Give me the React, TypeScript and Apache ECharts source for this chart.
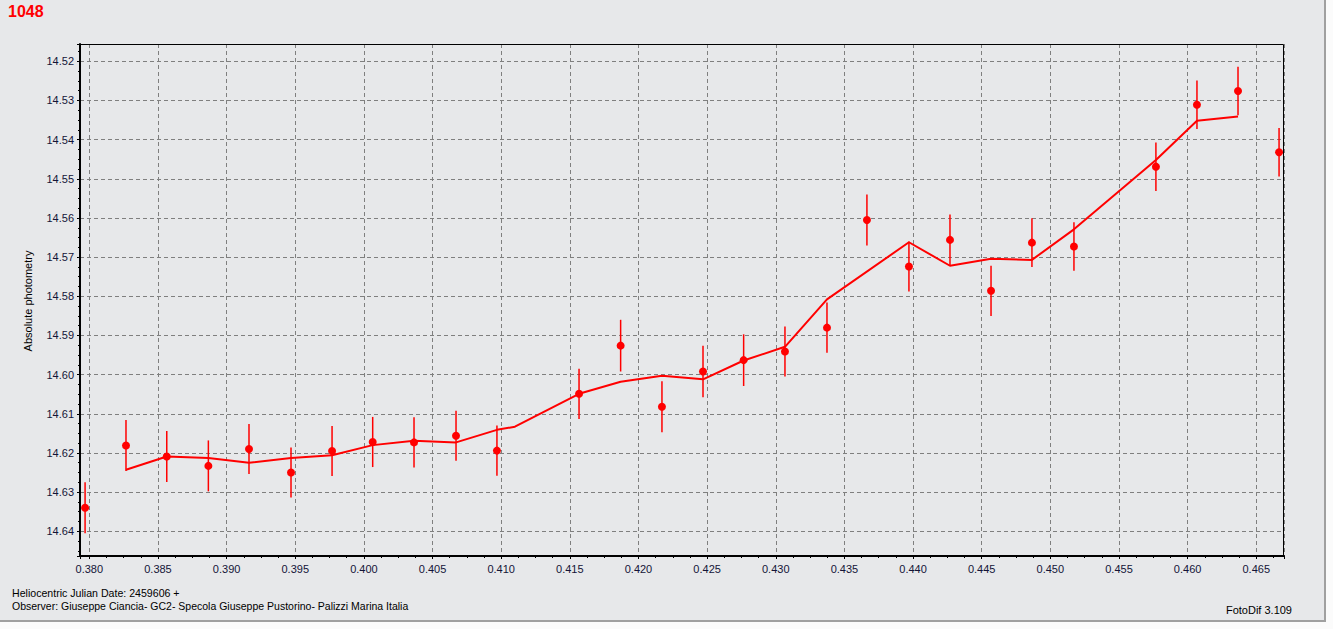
import React, { useEffect, useRef } from "react";
import * as echarts from "echarts";

// Heliocentric Julian Date offsets (days after 2459606)
const obsJD = [
  0.37969, 0.38267, 0.38564, 0.38867, 0.39163, 0.39469, 0.39768, 0.40064, 0.40365, 0.40671,
  0.40969, 0.41567, 0.4187, 0.42171, 0.4247, 0.42766, 0.43067, 0.43373, 0.43664, 0.4397,
  0.44269, 0.44568, 0.44866, 0.45172, 0.45769, 0.46068, 0.46367, 0.46666,
];
// Absolute photometry (magnitudes)
const obsMag = [
  14.634, 14.6181, 14.6209, 14.6233, 14.619, 14.625, 14.6195, 14.6172, 14.6173, 14.6156,
  14.6194, 14.6049, 14.5926, 14.6082, 14.5992, 14.5963, 14.5941, 14.588, 14.5605, 14.5724,
  14.5656, 14.5786, 14.5663, 14.5673, 14.5469, 14.5311, 14.5276, 14.5432,
];
// Error (half length of error bar)
const obsErr = [
  0.0065, 0.0065, 0.0065, 0.0065, 0.0064, 0.0064, 0.0064, 0.0064, 0.0064, 0.0064,
  0.0064, 0.0064, 0.0066, 0.0065, 0.0066, 0.0066, 0.0064, 0.0064, 0.0065, 0.0064,
  0.0065, 0.0064, 0.0062, 0.0062, 0.0062, 0.0062, 0.0062, 0.0062,
];
// Smoothed curve
const curveJD = [
  0.38267, 0.38564, 0.38867, 0.39163, 0.39469, 0.39768, 0.40064, 0.40365, 0.40671, 0.40969,
  0.411, 0.41567, 0.4187, 0.42171, 0.4247, 0.42766, 0.43067, 0.43373, 0.4397, 0.44269,
  0.44568, 0.44866, 0.45172, 0.45769, 0.46068, 0.46367,
];
const curveMag = [
  14.6243, 14.6209, 14.6213, 14.6225, 14.6213, 14.6206, 14.618, 14.6169, 14.6173, 14.6141,
  14.6133, 14.6049, 14.6018, 14.6003, 14.6012, 14.5964, 14.5929, 14.5808, 14.5662, 14.5722,
  14.5704, 14.5707, 14.5629, 14.5452, 14.5352, 14.5341,
];

const titleText = "1048";
const yName = "Absolute photometry";
const xNameText = "Heliocentric Julian Date: 2459606 +";
const observerText = "Observer: Giuseppe Ciancia- GC2- Specola Giuseppe Pustorino- Palizzi Marina Italia";
const versionText = "FotoDif 3.109";

const FONT = "'Liberation Sans', Arial, sans-serif";
const BG = "#e7e8ea";

export default function App() {
  const ref = useRef<HTMLDivElement>(null);
  useEffect(() => {
    if (!ref.current) return;
    const chart = echarts.init(ref.current, undefined, { renderer: "svg" });
    const errData = obsJD.map((x, i) => [x, obsMag[i] - obsErr[i], obsMag[i] + obsErr[i]]);
    const ptData = obsJD.map((x, i) => [x, obsMag[i]]);
    const lineData = curveJD.map((x, i) => [x, curveMag[i]]);
    chart.setOption({
      animation: false,
      backgroundColor: BG,
      grid: { left: 80, top: 44, right: 40, bottom: 64, containLabel: false },
      xAxis: {
        type: "value",
        min: 0.37932,
        max: 0.46702,
        minInterval: 0.005,
        maxInterval: 0.005,
        splitNumber: 17,
        axisLine: { show: true, lineStyle: { color: "#000", width: 2 } },
        axisTick: { show: true, length: 3, lineStyle: { color: "#000" } },
        minorTick: { show: true, splitNumber: 4, length: 2, lineStyle: { color: "#000" } },
        splitLine: { show: true, lineStyle: { color: "#7f7f7f", type: [4, 3], width: 1 } },
        axisLabel: {
          showMinLabel: false,
          showMaxLabel: false,
          margin: 7,
          color: "#141438",
          fontSize: 11,
          fontFamily: FONT,
          formatter: (v: number) => v.toFixed(3),
        },
      },
      yAxis: {
        type: "value",
        inverse: true,
        min: 14.51558,
        max: 14.64631,
        minInterval: 0.01,
        maxInterval: 0.01,
        splitNumber: 13,
        axisLine: { show: true, lineStyle: { color: "#000", width: 2 } },
        axisTick: { show: true, length: 3, lineStyle: { color: "#000" } },
        minorTick: { show: true, splitNumber: 4, length: 2, lineStyle: { color: "#000" } },
        splitLine: { show: true, lineStyle: { color: "#7f7f7f", type: [4, 3], width: 1 } },
        axisLabel: {
          showMinLabel: false,
          showMaxLabel: false,
          margin: 6,
          color: "#141438",
          fontSize: 11,
          fontFamily: FONT,
          formatter: (v: number) => v.toFixed(2),
        },
      },
      graphic: [
        {
          type: "rect",
          z: 100,
          silent: true,
          shape: { x: 80, y: 44.5, width: 1203.5, height: 511.5 },
          style: { fill: "none", stroke: "#000", lineWidth: 1 },
        },
        {
          type: "text",
          left: 8,
          top: 3,
          style: { text: titleText, fill: "#ff0000", font: `bold 16px ${FONT}` },
        },
        {
          type: "text",
          x: 28,
          y: 301,
          rotation: Math.PI / 2,
          style: {
            text: yName,
            fill: "#000",
            font: `11px ${FONT}`,
            textAlign: "center",
            textVerticalAlign: "middle",
          },
        },
        {
          type: "text",
          x: 12,
          y: 593,
          style: { text: xNameText, fill: "#000", font: `10.6px ${FONT}`, textVerticalAlign: "middle" },
        },
        {
          type: "text",
          x: 12,
          y: 606,
          style: { text: observerText, fill: "#000", font: `10.5px ${FONT}`, textVerticalAlign: "middle" },
        },
        {
          type: "text",
          x: 1292,
          y: 610,
          style: {
            text: versionText,
            fill: "#000",
            font: `11px ${FONT}`,
            textAlign: "right",
            textVerticalAlign: "middle",
          },
        },
      ],
      series: [
        {
          type: "custom",
          name: "errors",
          z: 3,
          data: errData,
          encode: { x: 0, y: [1, 2] },
          renderItem: (params: any, api: any) => {
            const x = api.value(0);
            const p1 = api.coord([x, api.value(1)]);
            const p2 = api.coord([x, api.value(2)]);
            return {
              type: "line",
              shape: { x1: p1[0], y1: p1[1], x2: p2[0], y2: p2[1] },
              style: { stroke: "#ff0000", lineWidth: 1.5 },
            };
          },
        },
        {
          type: "line",
          name: "curve",
          z: 4,
          data: lineData,
          showSymbol: false,
          symbol: "none",
          lineStyle: { color: "#ff0000", width: 2 },
        },
        {
          type: "scatter",
          name: "obs",
          z: 5,
          data: ptData,
          symbol: "circle",
          symbolSize: 8,
          itemStyle: { color: "#ff0000", opacity: 1 },
        },
      ],
    });
    return () => chart.dispose();
  }, []);

  return (
    <div style={{ position: "absolute", left: 0, top: 0, width: 1333, height: 629, background: "#fbfbfb" }}>
      <div ref={ref} style={{ position: "absolute", left: 0, top: 0, width: 1324, height: 620 }} />
      <div style={{ position: "absolute", left: 1324, top: 0, width: 2, height: 622, background: "#a0a0a0" }} />
      <div style={{ position: "absolute", left: 0, top: 620, width: 1326, height: 2, background: "#a0a0a0" }} />
    </div>
  );
}
